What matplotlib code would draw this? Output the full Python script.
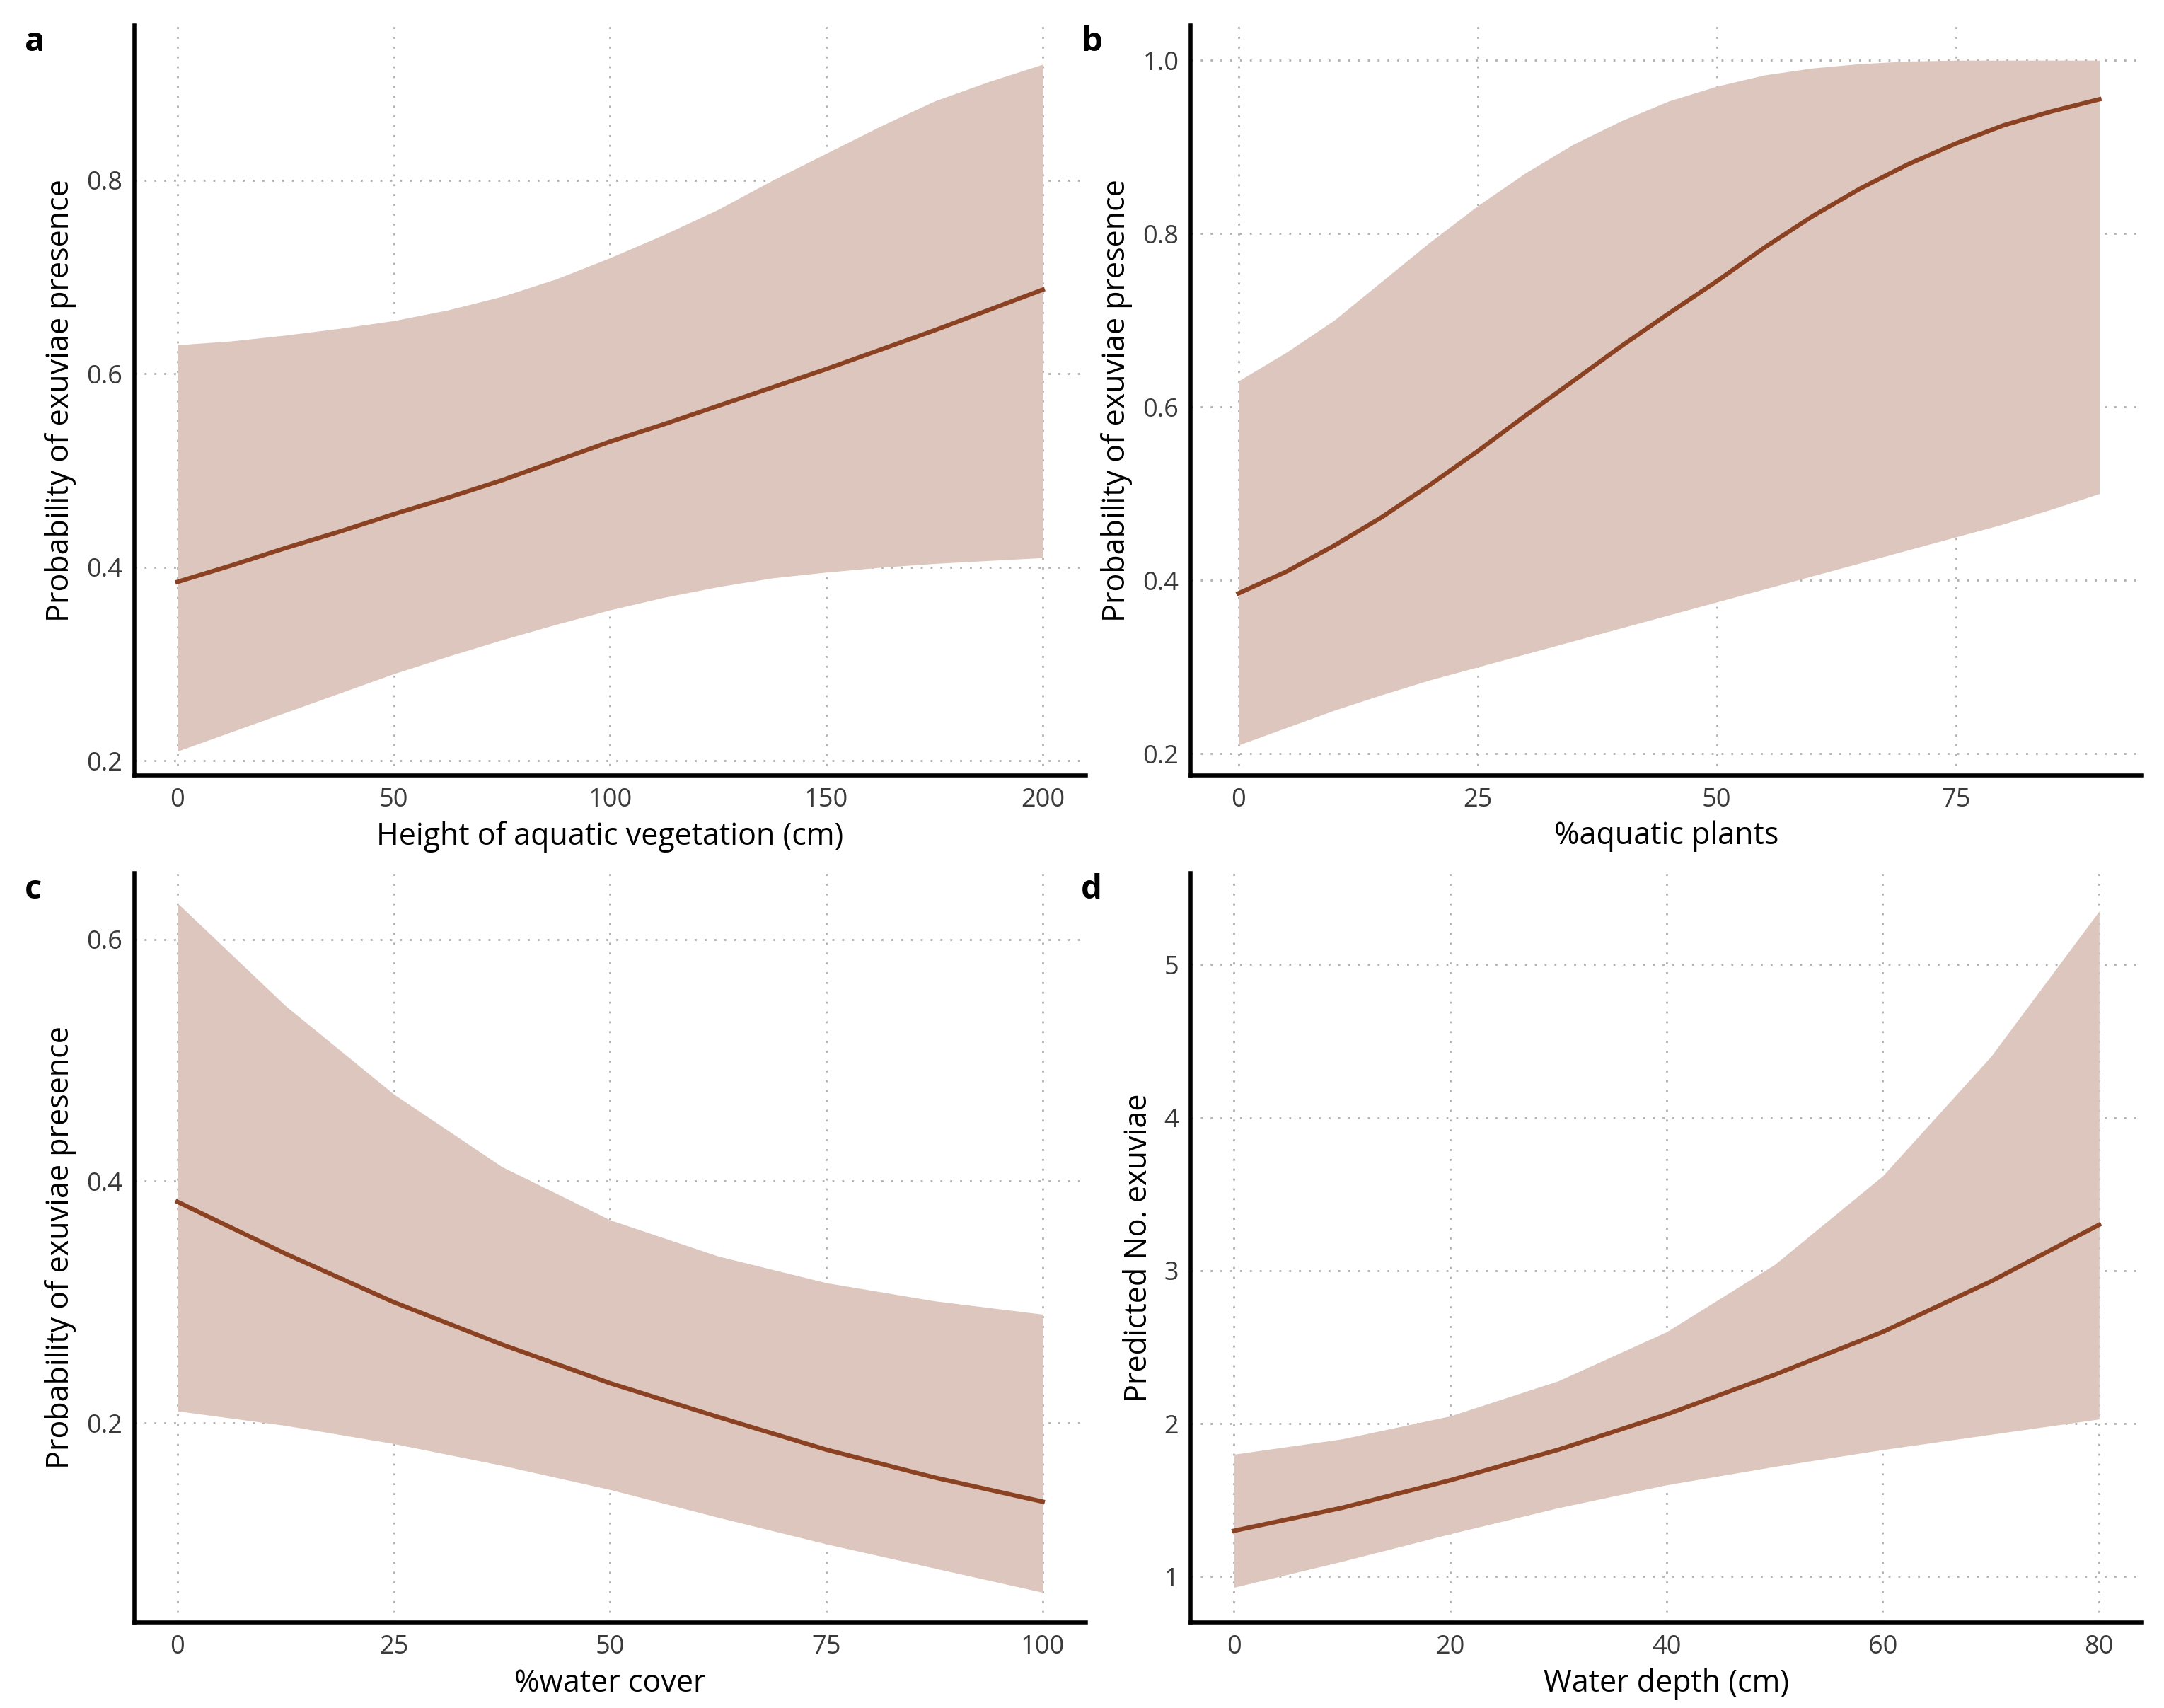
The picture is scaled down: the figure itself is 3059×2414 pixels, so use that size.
import matplotlib.pyplot as plt
import numpy as np

plt.rcParams['font.family'] = ['Open Sans', 'DejaVu Sans']

fill_col = '#dcc6bd'
line_col = '#8b4223'

# panel a
a_x = [0, 12.5, 25, 37.5, 50, 62.5, 75, 87.5, 100, 112.5, 125, 137.5, 150, 162.5, 175, 187.5, 200]
a_fit = [0.385, 0.402, 0.42, 0.437, 0.455, 0.472, 0.49, 0.51, 0.53, 0.548, 0.567, 0.586, 0.605, 0.625, 0.645, 0.666, 0.687]
a_hi = [0.63, 0.634, 0.64, 0.647, 0.655, 0.666, 0.68, 0.698, 0.72, 0.744, 0.77, 0.8, 0.828, 0.856, 0.882, 0.902, 0.92]
a_lo = [0.21, 0.23, 0.25, 0.27, 0.29, 0.308, 0.325, 0.341, 0.356, 0.369, 0.38, 0.389, 0.395, 0.4, 0.404, 0.407, 0.41]

# panel b
b_x = [0, 5, 10, 15, 20, 25, 30, 35, 40, 45, 50, 55, 60, 65, 70, 75, 80, 85, 90]
b_fit = [0.385, 0.41, 0.44, 0.473, 0.51, 0.549, 0.59, 0.63, 0.67, 0.708, 0.745, 0.784, 0.82, 0.852, 0.88, 0.904, 0.925, 0.941, 0.955]
b_hi = [0.63, 0.663, 0.7, 0.745, 0.79, 0.832, 0.87, 0.903, 0.93, 0.953, 0.97, 0.983, 0.991, 0.996, 0.999, 1.0, 1.0, 1.0, 1.0]
b_lo = [0.21, 0.23, 0.25, 0.268, 0.285, 0.3, 0.315, 0.33, 0.345, 0.36, 0.375, 0.39, 0.405, 0.42, 0.435, 0.45, 0.465, 0.482, 0.50]

# panel c
c_x = [0, 12.5, 25, 37.5, 50, 62.5, 75, 87.5, 100]
c_fit = [0.383, 0.34, 0.30, 0.265, 0.233, 0.205, 0.178, 0.155, 0.135]
c_hi = [0.63, 0.545, 0.472, 0.412, 0.368, 0.338, 0.316, 0.301, 0.29]
c_lo = [0.21, 0.198, 0.183, 0.165, 0.145, 0.122, 0.10, 0.08, 0.06]

# panel d
d_x = [0, 10, 20, 30, 40, 50, 60, 70, 80]
d_fit = [1.3, 1.45, 1.63, 1.83, 2.06, 2.32, 2.6, 2.93, 3.3]
d_hi = [1.8, 1.9, 2.05, 2.28, 2.6, 3.04, 3.62, 4.4, 5.35]
d_lo = [0.93, 1.1, 1.28, 1.45, 1.6, 1.72, 1.83, 1.93, 2.03]

panels = [
    ('a', a_x, a_fit, a_hi, a_lo, 'Height of aquatic vegetation (cm)', 'Probability of exuviae presence',
     [0, 50, 100, 150, 200], [0.2, 0.4, 0.6, 0.8], (-10, 210), (0.185, 0.96)),
    ('b', b_x, b_fit, b_hi, b_lo, '%aquatic plants', 'Probability of exuviae presence',
     [0, 25, 50, 75], [0.2, 0.4, 0.6, 0.8, 1.0], (-5, 94.5), (0.175, 1.04)),
    ('c', c_x, c_fit, c_hi, c_lo, '%water cover', 'Probability of exuviae presence',
     [0, 25, 50, 75, 100], [0.2, 0.4, 0.6], (-5, 105), (0.035, 0.655)),
    ('d', d_x, d_fit, d_hi, d_lo, 'Water depth (cm)', 'Predicted No. exuviae',
     [0, 20, 40, 60, 80], [1, 2, 3, 4, 5], (-4, 84), (0.7, 5.6)),
]

fig, axes = plt.subplots(2, 2, figsize=(30.59, 24.14), dpi=100)
fig.subplots_adjust(left=0.062, right=0.99, top=0.985, bottom=0.05, hspace=0.13, wspace=0.11)

for ax, (lab, x, fit, hi, lo, xl, yl, xt, yt, xlim, ylim) in zip(axes.flat, panels):
    ax.fill_between(x, lo, hi, color=fill_col, lw=0)
    ax.plot(x, fit, color=line_col, lw=4.5)
    ax.set_xticks(xt)
    ax.set_yticks(yt)
    ax.set_xlim(*xlim)
    ax.set_ylim(*ylim)
    ax.grid(True, ls=(0, (1, 4)), color='#b0b0b0', lw=2)
    ax.set_axisbelow(True)
    for s in ['top', 'right']:
        ax.spines[s].set_visible(False)
    for s in ['left', 'bottom']:
        ax.spines[s].set_linewidth(4)
    ax.tick_params(length=0, labelsize=26, labelcolor='#3a3a3a', pad=12)
    ax.set_xlabel(xl, fontsize=31, labelpad=8)
    ax.set_ylabel(yl, fontsize=31, labelpad=10)
    ax.text(-0.115, 1.0, lab, transform=ax.transAxes, fontsize=34, fontweight='bold', va='top')

fig.savefig('out.png')
